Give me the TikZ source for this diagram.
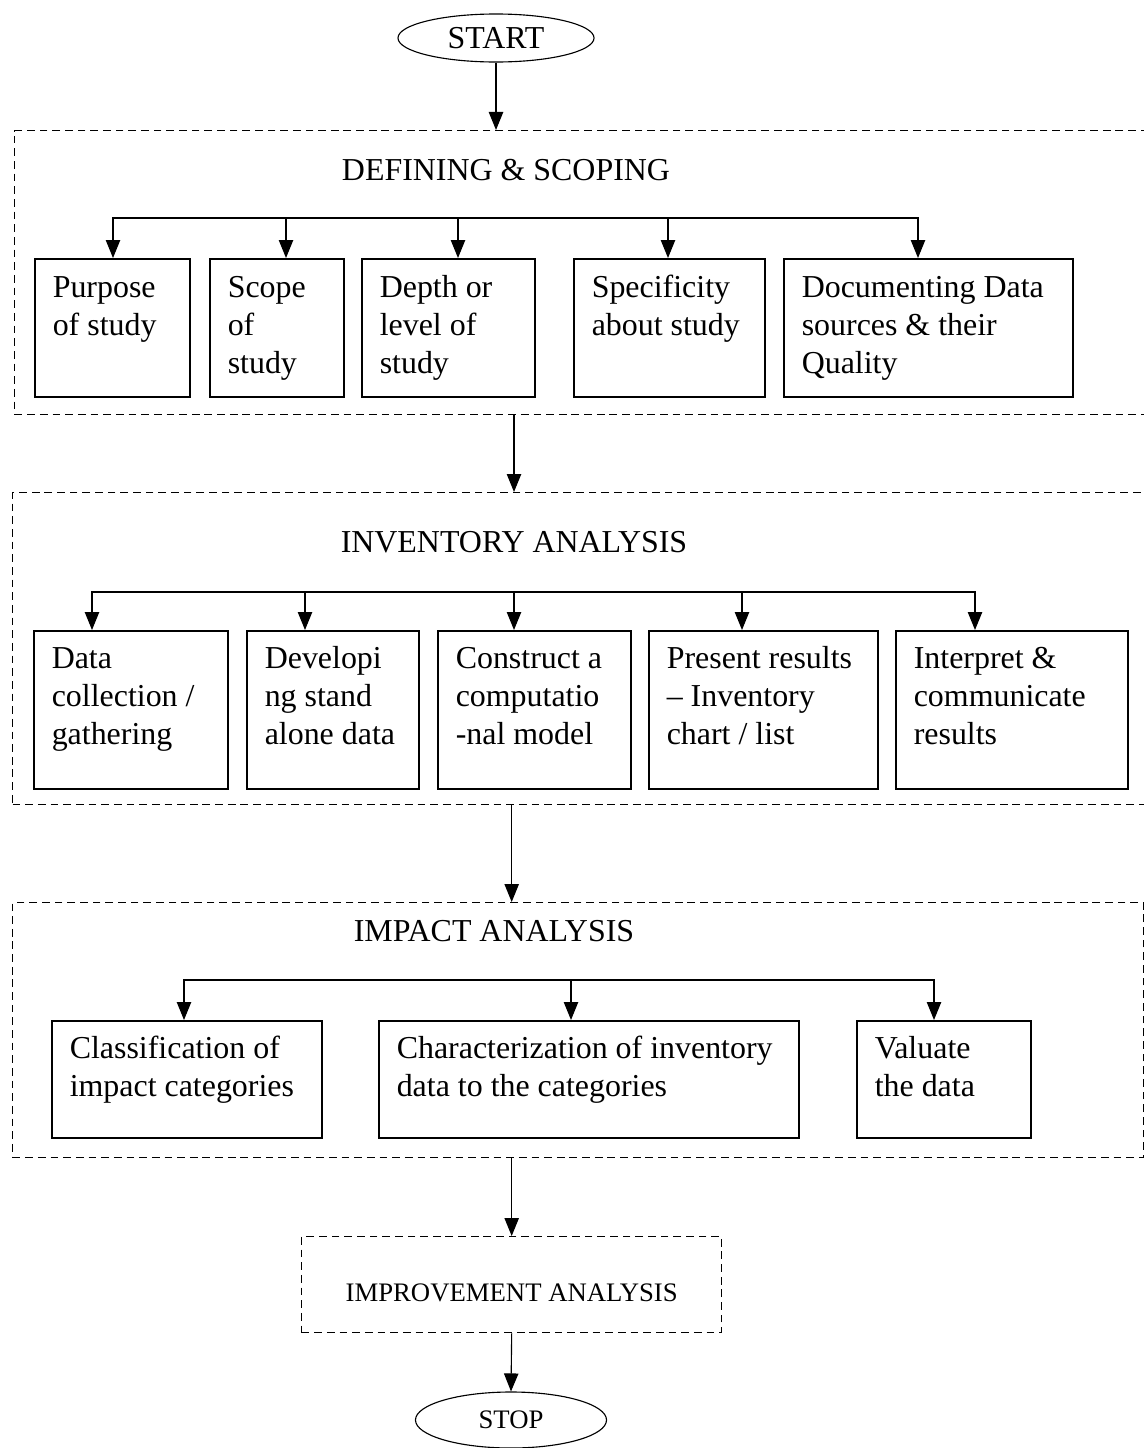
\documentclass[tikz,border=0pt]{standalone}
\usepackage{fontspec}
\setmainfont{Liberation Serif}
\usetikzlibrary{arrows.meta,shapes.geometric}
\newcommand\boxfont{\fontsize{22.7}{27}\selectfont}
\newcommand\termfont{\fontsize{19}{23}\selectfont}

\begin{document}
\begin{tikzpicture}[
  x=0.025cm,y=-0.025cm,
  term/.style={draw,ellipse,line width=0.8pt,inner sep=0pt},
  frame/.style={draw,dash pattern=on 5.5pt off 3.5pt,line width=0.9pt,anchor=north west,inner sep=0pt},
  stepbox/.style={draw,line width=1.1pt,anchor=north west,align=flush left,inner xsep=0.45cm,inner ysep=0pt,font=\boxfont},
  rowA/.style={text height=0.975cm,text depth=2.475cm},
  rowB/.style={text height=0.95cm,text depth=3.0cm},
  rowC/.style={text height=0.95cm,text depth=1.975cm},
  head/.style={font=\boxfont,inner sep=0pt},
  arr/.style={-{Triangle[length=0.45cm,width=0.36cm]},line width=0.8pt}
]
  \useasboundingbox (0,0) rectangle (1144,1448);

  \node[term,minimum width=4.9cm,minimum height=1.2cm,font=\boxfont] (start) at (496,38) {START};

  % defining & scoping
  \node[frame,minimum width=28.65cm,minimum height=7.1cm] (def) at (14,130) {};
  \node[head] (deft) at (506,170) {DEFINING \& SCOPING};
  \node[stepbox,rowA,text width=2.975cm] (p1) at (34,258) {Purpose\\of study};
  \node[stepbox,rowA,text width=2.45cm] (p2) at (209,258) {Scope\\of\\study};
  \node[stepbox,rowA,text width=3.425cm] (p3) at (361,258) {Depth or\\level of\\study};
  \node[stepbox,rowA,text width=3.875cm] (p4) at (573,258) {Specificity\\about study};
  \node[stepbox,rowA,text width=6.325cm] (p5) at (783,258) {Documenting Data\\sources \& their\\Quality};
  \coordinate (a1) at (113,218);
  \coordinate (a2) at (286,218);
  \coordinate (a3) at (458,218);
  \coordinate (a4) at (668,218);
  \coordinate (a5) at (918,218);
  \draw[arr] (start.south) -- (start.south |- def.north);
  \draw[arr] (a3) -- (a1) -- (a1 |- p1.north);
  \draw[arr] (a3) -- (a5) -- (a5 |- p5.north);
  \draw[arr] (a2) -- (a2 |- p2.north);
  \draw[arr] (a3) -- (a3 |- p3.north);
  \draw[arr] (a4) -- (a4 |- p4.north);

  % inventory analysis
  \node[frame,minimum width=28.7cm,minimum height=7.8cm] (inv) at (12,492) {};
  \node[head] (invt) at (514,542) {INVENTORY ANALYSIS};
  \node[stepbox,rowB,text width=3.95cm] (q1) at (33,630) {Data\\collection /\\gathering};
  \node[stepbox,rowB,text width=3.4cm] (q2) at (246,630) {Developi\\ng stand\\alone data};
  \node[stepbox,rowB,text width=3.925cm] (q3) at (437,630) {Construct a\\computatio\\-nal model};
  \node[stepbox,rowB,text width=4.825cm] (q4) at (648,630) {Present results\\\textendash{} Inventory\\chart / list};
  \node[stepbox,rowB,text width=4.9cm] (q5) at (895,630) {Interpret \&\\communicate\\results};
  \coordinate (b1) at (92,592);
  \coordinate (b2) at (305,592);
  \coordinate (b3) at (514,592);
  \coordinate (b4) at (742,592);
  \coordinate (b5) at (975,592);
  \draw[arr] (invt.north |- def.south) -- (invt.north |- inv.north);
  \draw[arr] (b3) -- (b1) -- (b1 |- q1.north);
  \draw[arr] (b3) -- (b5) -- (b5 |- q5.north);
  \draw[arr] (b2) -- (b2 |- q2.north);
  \draw[arr] (b3) -- (b3 |- q3.north);
  \draw[arr] (b4) -- (b4 |- q4.north);

  % impact analysis
  \node[frame,minimum width=28.275cm,minimum height=6.375cm] (imp) at (12,902) {};
  \node[head] (impt) at (494,931) {IMPACT ANALYSIS};
  \node[stepbox,rowC,text width=5.85cm] (r1) at (51,1020) {Classification of\\impact categories};
  \node[stepbox,rowC,text width=9.6cm] (r2) at (378,1020) {Characterization of inventory\\data to the categories};
  \node[stepbox,rowC,text width=3.45cm] (r3) at (856,1020) {Valuate\\the data};
  \coordinate (c1) at (184,980);
  \coordinate (c2) at (571,980);
  \coordinate (c3) at (934,980);
  \draw[arr] (c2) -- (c1) -- (c1 |- r1.north);
  \draw[arr] (c2) -- (c3) -- (c3 |- r3.north);
  \draw[arr] (c2) -- (c2 |- r2.north);

  % improvement and stop
  \node[frame,minimum width=10.5cm,text height=1.625cm,text depth=0.775cm,font=\termfont] (impr) at (301,1236) {IMPROVEMENT ANALYSIS};
  \node[term,minimum width=4.775cm,minimum height=1.4cm,font=\termfont] (stop) at (511,1420) {STOP};
  \draw[arr] (impr.north |- inv.south) -- (impr.north |- imp.north);
  \draw[arr] (impr.north |- imp.south) -- (impr.north);
  \draw[arr] (impr.south) -- (stop.north);
\end{tikzpicture}
\end{document}
